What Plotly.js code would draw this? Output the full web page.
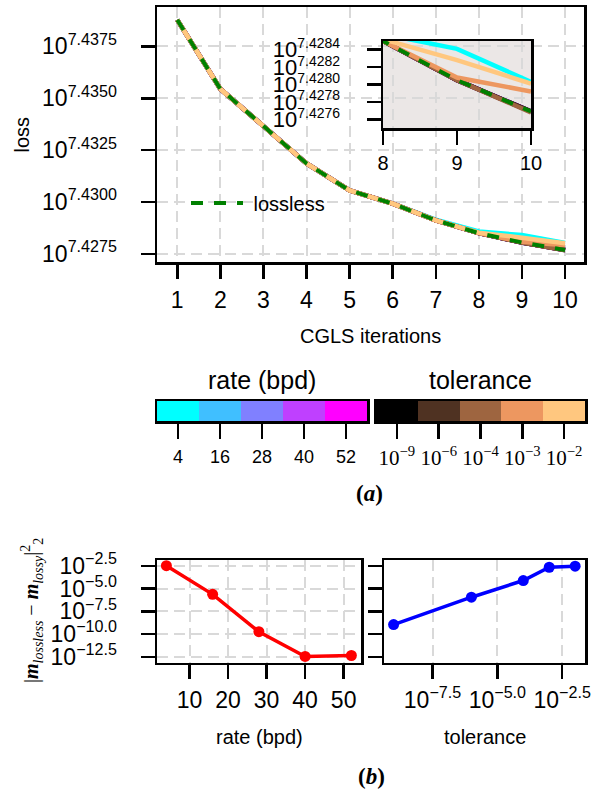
<!DOCTYPE html>
<html><head><meta charset="utf-8">
<script src="https://cdn.plot.ly/plotly-3.0.1.min.js"></script>
<style>html,body{margin:0;padding:0;background:#fff}</style>
</head><body><div id="chart" style="width:606px;height:798px"></div>
<script>
// ---------- data (loss values as log10 exponents) ----------
const iterations = [1, 2, 3, 4, 5, 6, 7, 8, 9, 10];
const lossLosslessLog = [7.43878, 7.43545, 7.43366, 7.43186, 7.43056, 7.42992, 7.42912, 7.42850, 7.42805, 7.42769];
const rateBpd = [4, 16, 28, 40, 52];
const lossRate4Log  = [7.43878, 7.43545, 7.43366, 7.43186, 7.43056, 7.42992, 7.42915, 7.42858, 7.42841, 7.42803];
const lossRate16Log = [7.43878, 7.43545, 7.43366, 7.43186, 7.43056, 7.42992, 7.42912, 7.42850, 7.42805, 7.42769];
const lossRate28Log = [7.43878, 7.43545, 7.43366, 7.43186, 7.43056, 7.42992, 7.42912, 7.42850, 7.42805, 7.42769];
const lossRate40Log = [7.43878, 7.43545, 7.43366, 7.43186, 7.43056, 7.42992, 7.42912, 7.42850, 7.42805, 7.42769];
const lossRate52Log = [7.43878, 7.43545, 7.43366, 7.43186, 7.43056, 7.42992, 7.42912, 7.42850, 7.42805, 7.42769];
const toleranceExp = [-9, -6, -4, -3, -2];
const lossTol9Log = [7.43878, 7.43545, 7.43366, 7.43186, 7.43056, 7.42992, 7.42912, 7.42850, 7.42805, 7.42769];
const lossTol6Log = [7.43878, 7.43545, 7.43366, 7.43186, 7.43056, 7.42992, 7.42912, 7.42850, 7.42805, 7.42769];
const lossTol4Log = [7.43878, 7.43545, 7.43366, 7.43186, 7.43056, 7.42992, 7.42912, 7.42850, 7.42805, 7.42768];
const lossTol3Log = [7.43878, 7.43545, 7.43366, 7.43186, 7.43056, 7.42992, 7.42912, 7.42850, 7.42808, 7.42792];
const lossTol2Log = [7.43878, 7.43545, 7.43366, 7.43186, 7.43056, 7.42992, 7.42912, 7.42852, 7.42828, 7.42801];
const rateColors = ['#00ffff', '#40bfff', '#8080ff', '#bf40ff', '#ff00ff'];
const tolColors  = ['#000000', '#4f3222', '#9e6540', '#ed9760', '#ffc77f'];
const mseRateLog = [-2.47, -5.62, -9.74, -12.46, -12.36];
const mseTolLog  = [-8.95, -5.94, -4.10, -2.64, -2.52];
const lossTickLog  = [7.4275, 7.4300, 7.4325, 7.4350, 7.4375];
const insetTickLog = [7.4276, 7.4278, 7.4280, 7.4282, 7.4284];
const insetXTicks  = [8, 9, 10];
const mseTickLog   = [-2.5, -5.0, -7.5, -10.0, -12.5];
const rateXTicks   = [10, 20, 30, 40, 50];
const tolTickLog   = [-7.5, -5.0, -2.5];

// ---------- helpers ----------
const W = 606, H = 798;
const X = p => p / W, Y = p => 1 - p / H;
const dX = (a, b) => [a / W, b / W];
const dY = (t, b) => [1 - b / H, 1 - t / H];
const p10 = v => Math.pow(10, v);
const fmt = (v, d) => (v < 0 ? '−' : '') + Math.abs(v).toFixed(d);
const SANS = 'Liberation Sans, Arial, Helvetica, sans-serif';
const SERIF = 'Liberation Serif, Times New Roman, serif';
const GRID = {showgrid: true, gridcolor: '#d9d9d9', gridwidth: 2, griddash: '11px,6px'};
const FRAME = {showline: true, mirror: true, linecolor: '#000', linewidth: 2.5, zeroline: false};
const TICKS = {ticks: 'outside', ticklen: 14, tickwidth: 2.5, tickcolor: '#000'};

const rateSeries = [lossRate4Log, lossRate16Log, lossRate28Log, lossRate40Log, lossRate52Log];
const tolSeries = [lossTol9Log, lossTol6Log, lossTol4Log, lossTol3Log, lossTol2Log];

const traces = [];
['x', 'x2'].forEach((xa, k) => {
  const ya = k === 0 ? 'y' : 'y2';
  rateSeries.forEach((s, i) => traces.push({x: iterations, y: s.map(p10), xaxis: xa, yaxis: ya, mode: 'lines',
    line: {color: rateColors[i], width: 4.5}, showlegend: false, hoverinfo: 'skip'}));
  tolSeries.forEach((s, i) => traces.push({x: iterations, y: s.map(p10), xaxis: xa, yaxis: ya, mode: 'lines',
    line: {color: tolColors[i], width: 4.5}, showlegend: false, hoverinfo: 'skip'}));
  traces.push({x: iterations, y: lossLosslessLog.map(p10), xaxis: xa, yaxis: ya, mode: 'lines', name: '\u00a0lossless',
    line: {color: '#008000', width: 4, dash: '12px,11px'}, showlegend: k === 0, hoverinfo: 'skip'});
});

// colour bars as heatmaps
const rateCats = rateBpd.map(String);
const tolCats = toleranceExp.map(e => '1e' + e);
const discrete = cols => cols.map((c, i) => [i / (cols.length - 1), c]);
traces.push({type: 'heatmap', x: rateCats, y: [0], z: [rateBpd.map((_, i) => i)], xaxis: 'x3', yaxis: 'y3',
  colorscale: discrete(rateColors), zmin: 0, zmax: 4, showscale: false, hoverinfo: 'skip'});
traces.push({type: 'heatmap', x: tolCats, y: [0], z: [toleranceExp.map((_, i) => i)], xaxis: 'x4', yaxis: 'y4',
  colorscale: discrete(tolColors), zmin: 0, zmax: 4, showscale: false, hoverinfo: 'skip'});

// bottom panels
traces.push({x: rateBpd, y: mseRateLog.map(p10), xaxis: 'x5', yaxis: 'y5', mode: 'lines+markers',
  line: {color: '#ff0000', width: 3.5}, marker: {color: '#ff0000', size: 11}, showlegend: false, hoverinfo: 'skip', cliponaxis: false});
traces.push({x: toleranceExp.map(p10), y: mseTolLog.map(p10), xaxis: 'x6', yaxis: 'y6', mode: 'lines+markers',
  line: {color: '#0000ff', width: 3.5}, marker: {color: '#0000ff', size: 11}, showlegend: false, hoverinfo: 'skip', cliponaxis: false});

const mseRange = [-13.13, -1.84];
const layout = {
  width: W, height: H, margin: {l: 0, r: 0, t: 0, b: 0},
  paper_bgcolor: '#fff', plot_bgcolor: 'rgba(0,0,0,0)',
  font: {family: SANS, color: '#000'},
  showlegend: true,
  legend: {x: X(186), y: Y(203), xanchor: 'left', yanchor: 'middle', bgcolor: 'rgba(0,0,0,0)',
    font: {size: 20, family: SANS}, itemwidth: 52},
  xaxis: Object.assign({domain: dX(157, 584), anchor: 'y', range: [0.53, 10.44], tickmode: 'array', tickvals: iterations,
    tickfont: {size: 23}, ticklabelstandoff: 2}, FRAME, TICKS, GRID),
  yaxis: Object.assign({domain: dY(7, 262), anchor: 'x', type: 'log', range: [7.42711, 7.4394], tickmode: 'array',
    tickvals: lossTickLog.map(p10), ticktext: lossTickLog.map(v => '10<sup>' + v.toFixed(4) + '</sup>'),
    tickfont: {size: 23}, ticklabelstandoff: 19}, FRAME, TICKS, GRID),
  xaxis2: Object.assign({domain: dX(383, 531), anchor: 'y2', range: [8, 10], tickmode: 'array', tickvals: insetXTicks,
    tickfont: {size: 20}, showgrid: false, ticklabelstandoff: 1}, FRAME, TICKS),
  yaxis2: Object.assign({domain: dY(41, 128), anchor: 'x2', type: 'log', range: [7.4275, 7.4285], tickmode: 'array',
    tickvals: insetTickLog.map(p10),
    ticktext: insetTickLog.map(v => '10<sup><span style="font-size:14px">' + v.toFixed(4) + '</span></sup>'),
    tickfont: {size: 22}, showgrid: false, ticklabelstandoff: 22}, FRAME, TICKS),
  xaxis3: Object.assign({domain: dX(157, 367), anchor: 'y3', type: 'category', range: [-0.5, 4.5],
    tickfont: {size: 18}, showgrid: false, ticklabelstandoff: 3}, FRAME, TICKS, {ticklen: 15}),
  yaxis3: Object.assign({domain: dY(401, 421), anchor: 'x3', range: [-0.5, 0.5], showticklabels: false, ticks: '', showgrid: false}, FRAME),
  xaxis4: Object.assign({domain: dX(376, 585), anchor: 'y4', type: 'category', range: [-0.5, 4.5], tickmode: 'array',
    tickvals: tolCats, ticktext: toleranceExp.map(e => '10<sup>−' + Math.abs(e) + '</sup>'),
    tickfont: {size: 21, family: SERIF}, showgrid: false, ticklabelstandoff: 1}, FRAME, TICKS, {ticklen: 15}),
  yaxis4: Object.assign({domain: dY(401, 421), anchor: 'x4', range: [-0.5, 0.5], showticklabels: false, ticks: '', showgrid: false}, FRAME),
  xaxis5: Object.assign({domain: dX(157, 361), anchor: 'y5', range: [1.56, 54.5], tickmode: 'array', tickvals: rateXTicks,
    tickfont: {size: 23}, ticklabelstandoff: 1}, FRAME, TICKS, GRID),
  yaxis5: Object.assign({domain: dY(560, 662.5), anchor: 'x5', type: 'log', range: mseRange, tickmode: 'array',
    tickvals: mseTickLog.map(p10), ticktext: mseTickLog.map(v => '10<sup>' + fmt(v, 1) + '</sup>'),
    tickfont: {size: 23}, ticklabelstandoff: 19}, FRAME, TICKS, GRID),
  xaxis6: Object.assign({domain: dX(384, 585), anchor: 'y6', type: 'log', range: [-9.37, -1.62], tickmode: 'array',
    tickvals: tolTickLog.map(p10), ticktext: tolTickLog.map(v => '10<sup>' + fmt(v, 1) + '</sup>'),
    tickfont: {size: 23}, ticklabelstandoff: 1}, FRAME, TICKS, GRID),
  yaxis6: Object.assign({domain: dY(560, 662.5), anchor: 'x6', type: 'log', range: mseRange, tickmode: 'array',
    tickvals: mseTickLog.map(p10), showticklabels: false, showgrid: false}, FRAME, TICKS),
  shapes: [{type: 'rect', xref: 'paper', yref: 'paper', x0: X(383), x1: X(531), y0: Y(128), y1: Y(41),
    fillcolor: '#ebe7e6', line: {width: 0}, layer: 'below'}],
  annotations: [
    {text: 'loss', x: X(21), y: Y(134.5), textangle: -90, font: {size: 20}},
    {text: 'CGLS iterations', x: X(370.5), y: Y(336), font: {size: 20}},
    {text: 'rate (bpd)', x: X(262), y: Y(380), font: {size: 25}},
    {text: 'tolerance', x: X(480.5), y: Y(380), font: {size: 25}},
    {text: '<b>(<i>a</i>)</b>', x: X(370), y: Y(493), font: {size: 23, family: SERIF}},
    {text: '|<b><i>m</i></b><sub><i>lossless</i></sub> − <b><i>m</i></b><sub><i>lossy</i></sub>|<sup>2</sup><sub>2</sub>',
      x: X(32), y: Y(611), textangle: -90, font: {size: 20, family: SERIF}},
    {text: 'rate (bpd)', x: X(259), y: Y(737), font: {size: 20}},
    {text: 'tolerance', x: X(484.5), y: Y(737), font: {size: 20}},
    {text: '<b>(<i>b</i>)</b>', x: X(371), y: Y(776), font: {size: 23, family: SERIF}}
  ].map(a => Object.assign({xref: 'paper', yref: 'paper', showarrow: false, xanchor: 'center', yanchor: 'middle'}, a))
};

Plotly.newPlot('chart', traces, layout, {displayModeBar: false, staticPlot: true});
</script></body></html>
